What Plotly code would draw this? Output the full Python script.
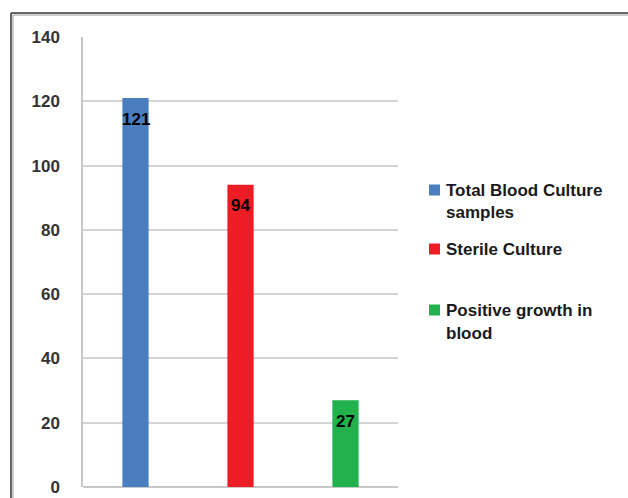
import plotly.graph_objects as go

# Blood culture results
categories = ["Total Blood Culture<br>samples", "Sterile Culture", "Positive growth in<br>blood"]
counts = [121, 94, 27]
colors = ["#4A7EBE", "#EE1C25", "#21B14D"]
y_ticks = [0, 20, 40, 60, 80, 100, 120, 140]

W, H = 628, 498
# plot area in pixels
L, R, T, B = 83, 398, 37, 487
FONT = "Liberation Sans"
FS = 17


def px_x(p):
    return (p - L) / (R - L)


def px_y(p):
    return (B - p) / (B - T)


fig = go.Figure()
for cat, val, col in zip(categories, counts, colors):
    fig.add_trace(go.Bar(
        x=[cat], y=[val], name=cat, width=0.25,
        marker=dict(color=col, line=dict(width=0)),
        showlegend=False, hoverinfo="y",
    ))

annotations = []
# value labels just inside the top of each bar
for cat, val in zip(categories, counts):
    annotations.append(dict(
        x=cat, y=val, xref="x", yref="y", text=str(val), showarrow=False,
        yshift=-21, font=dict(family=FONT, size=FS, color="#000000", weight="bold"),
    ))

shapes = []
# legend: coloured squares with wrapped labels
legend_rows = [190, 249, 310]
line_gap = 23
for cat, col, yc in zip(categories, colors, legend_rows):
    shapes.append(dict(
        type="rect", xref="paper", yref="paper",
        x0=px_x(429), x1=px_x(440), y0=px_y(yc - 5.5), y1=px_y(yc + 5.5),
        fillcolor=col, line=dict(width=0),
    ))
    for i, line in enumerate(cat.split("<br>")):
        annotations.append(dict(
            x=px_x(444), y=px_y(yc + i * line_gap), xref="paper", yref="paper",
            xanchor="left", yanchor="middle", text=line, showarrow=False,
            font=dict(family=FONT, size=FS, color="#1a1a1a", weight="bold"),
        ))

# outer frame (top and left edges, double rule)
shapes += [
    dict(type="line", xref="paper", yref="paper", x0=px_x(11), x1=px_x(640),
         y0=px_y(13), y1=px_y(13), line=dict(color="#333333", width=1.5)),
    dict(type="line", xref="paper", yref="paper", x0=px_x(13), x1=px_x(640),
         y0=px_y(15), y1=px_y(15), line=dict(color="#bbbbbb", width=1.5)),
    dict(type="line", xref="paper", yref="paper", x0=px_x(11), x1=px_x(11),
         y0=px_y(13), y1=px_y(520), line=dict(color="#333333", width=1.5)),
    dict(type="line", xref="paper", yref="paper", x0=px_x(13), x1=px_x(13),
         y0=px_y(15), y1=px_y(520), line=dict(color="#bbbbbb", width=1.5)),
]

fig.update_layout(
    width=W, height=H, autosize=False,
    margin=dict(l=L, r=W - R, t=T, b=H - B, pad=0, autoexpand=False),
    paper_bgcolor="white", plot_bgcolor="white",
    barmode="overlay", showlegend=False,
    font=dict(family=FONT, size=FS, color="#333333"),
    annotations=annotations, shapes=shapes,
    xaxis=dict(
        type="category", categoryarray=categories, showticklabels=False,
        showgrid=False, zeroline=False, showline=False, ticks="",
        automargin=False,
    ),
    yaxis=dict(
        range=[0, 140], tickvals=y_ticks, ticktext=[str(v) for v in y_ticks],
        showgrid=True, gridcolor="#d4d4d4", gridwidth=1.5,
        zeroline=True, zerolinecolor="#c8c8c8", zerolinewidth=1.5,
        showline=True, linecolor="#c8c8c8", linewidth=1.5,
        ticks="", ticklabelstandoff=18, automargin=False,
        tickfont=dict(family=FONT, size=FS, color="#333333", weight="bold"),
    ),
)

fig.write_html("out.html")
